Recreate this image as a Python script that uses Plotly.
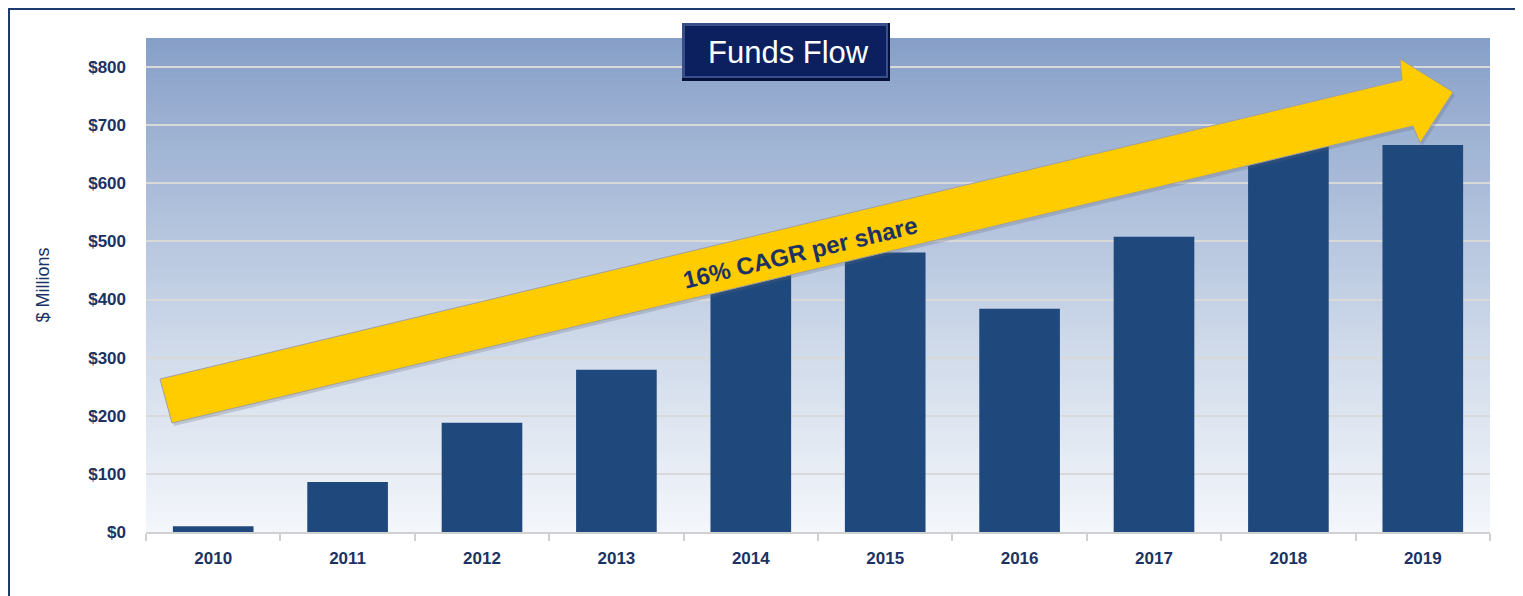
import plotly.graph_objects as go
import numpy as np

# ---- data ----
years = ["2010", "2011", "2012", "2013", "2014", "2015", "2016", "2017", "2018", "2019"]
funds_flow = [10, 86, 188, 279, 460, 481, 384, 508, 665, 666]
y_tick_vals = [0, 100, 200, 300, 400, 500, 600, 700, 800]
y_tick_text = ["$0", "$100", "$200", "$300", "$400", "$500", "$600", "$700", "$800"]

OFF = 8                      # browser body margin
W, H = 1523 - OFF, 596 - OFF  # figure size
L, R, T, B = 146, 1490, 38, 532   # plot area in page pixels
NAVY = "#1B3263"
BAR = "#1F497D"
FONT = "Liberation Sans, Arial, sans-serif"


def px(x):
    return (x - L) / (R - L)


def py(y):
    return (B - y) / (B - T)


fig = go.Figure()
fig.add_trace(go.Bar(x=years, y=funds_flow, marker=dict(color=BAR, line=dict(width=0)),
                     width=0.6, hoverinfo="x+y"))

shapes = []
# gradient background (plot area) - overlapping strips, no seams
anchors_y = [T, 52, 250, 350, 450, 515, B]
anchors_c = [(133, 158, 199), (138, 162, 201), (185, 200, 224), (208, 218, 234),
             (228, 234, 243), (240, 244, 250), (244, 247, 251)]
n = 100
for i in range(n):
    y0 = T + (B - T) * i / n
    ym = T + (B - T) * (i + 0.5) / n
    c = [int(round(np.interp(ym, anchors_y, [a[k] for a in anchors_c]))) for k in range(3)]
    shapes.append(dict(type="rect", xref="paper", yref="paper", layer="below",
                       x0=0, x1=1, y0=0, y1=py(y0),
                       fillcolor=f"rgb({c[0]},{c[1]},{c[2]})", line=dict(width=0)))

# outer border
shapes.append(dict(type="rect", xref="paper", yref="paper", layer="above",
                   x0=px(9), x1=px(1540), y0=py(620), y1=py(9),
                   line=dict(color="#1F3A6E", width=2), fillcolor="rgba(0,0,0,0)"))

# arrow
pts = [(160, 379), (1402, 80), (1400, 59), (1453, 92), (1420, 143), (1413, 126), (172, 423)]
shadow = "M " + " L ".join(f"{px(x+2)},{py(y+3)}" for x, y in pts) + " Z"
shapes.append(dict(type="path", xref="paper", yref="paper", layer="above", path=shadow,
                   fillcolor="rgba(90,100,120,0.25)", line=dict(width=0)))
path = "M " + " L ".join(f"{px(x)},{py(y)}" for x, y in pts) + " Z"
shapes.append(dict(type="path", xref="paper", yref="paper", layer="above", path=path,
                   fillcolor="#FFCC00", line=dict(color="#A0A0A0", width=1)))

# title box (beveled)
shapes.append(dict(type="rect", xref="paper", yref="paper", layer="above",
                   x0=px(682), x1=px(890), y0=py(81), y1=py(23),
                   fillcolor="#05113A", line=dict(width=0)))
shapes.append(dict(type="rect", xref="paper", yref="paper", layer="above",
                   x0=px(682), x1=px(888), y0=py(78), y1=py(23),
                   fillcolor="#3A4F8A", line=dict(width=0)))
shapes.append(dict(type="rect", xref="paper", yref="paper", layer="above",
                   x0=px(685), x1=px(886), y0=py(76), y1=py(26),
                   fillcolor="#0C1F5E", line=dict(width=0)))

annotations = [
    dict(text="Funds Flow", xref="paper", yref="paper", x=px(788), y=py(52),
         showarrow=False, font=dict(family=FONT, size=31, color="white"),
         xanchor="center", yanchor="middle"),
    dict(text="<b>16% CAGR per share</b>", xref="paper", yref="paper", x=px(800), y=py(252),
         showarrow=False, textangle=-13.5,
         font=dict(family=FONT, size=24, color=NAVY),
         xanchor="center", yanchor="middle"),
]

fig.update_layout(
    width=W, height=H, autosize=False,
    margin=dict(l=L - OFF, r=W - (R - OFF), t=T - OFF, b=H - (B - OFF), pad=0),
    paper_bgcolor="white", plot_bgcolor="rgba(0,0,0,0)",
    showlegend=False, bargap=0.4,
    shapes=shapes, annotations=annotations,
    xaxis=dict(type="category", showgrid=False, showline=True, linecolor="#D0D0D0", linewidth=2,
               ticks="outside", tickson="boundaries", ticklen=7, tickcolor="#D0D0D0", tickwidth=2,
               tickvals=years, ticktext=[f"<b>{y}</b>" for y in years],
               tickfont=dict(family=FONT, size=17, color=NAVY), ticklabelstandoff=10,
               range=[-0.5, 9.5], zeroline=False),
    yaxis=dict(range=[0, 850], tickvals=y_tick_vals, ticktext=[f"<b>{t}</b>" for t in y_tick_text],
               showgrid=True, gridcolor="#D9D9D9", gridwidth=2, zeroline=False, showline=False,
               ticks="", ticklabelstandoff=19,
               tickfont=dict(family=FONT, size=17, color=NAVY),
               title=dict(text="$ Millions", standoff=33,
                          font=dict(family=FONT, size=18, color=NAVY))),
)

fig.write_html("out.html")
